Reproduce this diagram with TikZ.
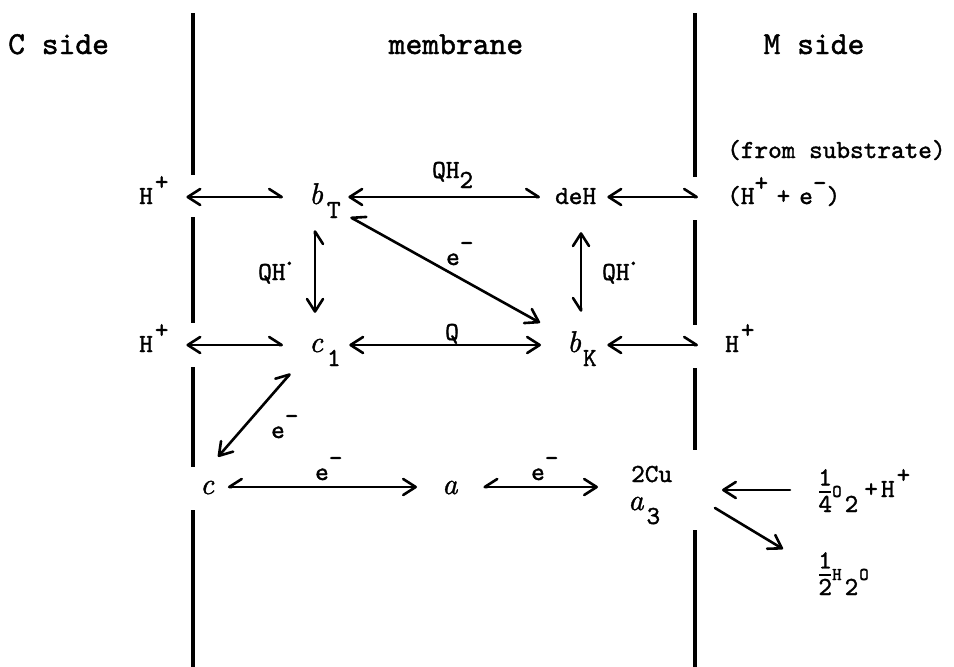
\documentclass[tikz,border=0pt]{standalone}
\usepackage{fontspec}
\setmonofont{lmmono10-regular.otf}[FakeBold=1.4]
\newfontfamily\ivfont{lmroman10-italic.otf}[FakeBold=1.2]
\usetikzlibrary{arrows.meta}
\newcommand{\iv}[1]{{\fontsize{30}{30}\selectfont\ivfont #1}}
\newcommand{\up}[2][14pt]{\raisebox{#1}{#2}}
\newcommand{\dn}[2][-14pt]{\raisebox{#1}{#2}}
\newcommand{\sm}[1]{{\fontsize{18}{18}\selectfont #1}}
\newcommand{\sfr}[2]{\raisebox{-15pt}{\vbox{\hbox to 12pt{\hss#1\hss}\kern6pt\hrule height 1.4pt\kern3pt\hbox to 12pt{\hss#2\hss}}}}
\begin{document}
\begin{tikzpicture}[x=1pt,y=-1pt,
  lbl/.style={inner sep=0pt, text height=14pt, text depth=0pt, anchor=base west,
              font=\fontsize{26}{30}\selectfont\ttfamily},
  head/.style={lbl, font=\fontsize{32}{36}\selectfont\ttfamily},
  mem/.style={line width=4pt},
  arr/.style={line width=2.6pt, line cap=round},
  both/.style={arr, {Straight Barb[length=12.5pt,width=16pt,round]}-{Straight Barb[length=12.5pt,width=16pt,round]}},
  half/.style={arr, {Straight Barb[length=12.5pt,width=16pt,round]}-{Straight Barb[length=12.5pt,width=16pt,round,harpoon]}},
  halfs/.style={arr, {Straight Barb[length=12.5pt,width=16pt,round]}-{Straight Barb[length=12.5pt,width=16pt,round,harpoon,swap]}},
  one/.style={arr, -{Straight Barb[length=12.5pt,width=16pt,round]}}]
\useasboundingbox (0,0) rectangle (954,667);
% membrane boundaries
\draw[mem] (193,13) -- (193,175) (193,217) -- (193,323) (193,367) -- (193,467) (193,510) -- (193,667);
\draw[mem] (695,13) -- (695,177) (695,220) -- (695,325) (695,368) -- (695,450) (695,530) -- (695,667);
\coordinate (mR) at (695,0);
% headers
\node[head] (cside) at (8,54) {C side};
\node[head,anchor=base] (memb) at (456,54) {membrane};
\node[head,anchor=base] (mside) at (814,54) {M side};
\node[lbl] (fromsub) at (727,158) {(from substrate)};
\node[lbl] (he) at (727,204) {(H\up[13pt]{+}\kern8.5pt+\kern9pt e\up[13pt]{-})};
% species
\node[lbl] (Hp1) at (139,204) {H\kern2pt\up{+}};
\node[lbl] (bT) at (309,204) {\iv{b}\kern4pt\dn{T}};
\node[lbl] (deH) at (555,204) {deH};
\node[lbl] (Hp2) at (139,352) {H\kern2pt\up{+}};
\node[lbl] (c1) at (309,352) {\iv{c}\kern4pt\dn{1}};
\node[lbl] (bK) at (567,352) {\iv{b}\kern2pt\dn{K}};
\node[lbl] (Hp3) at (725,352) {H\kern2pt\up{+}};
\node[lbl] (c) at (200,494) {\iv{c}};
\node[lbl] (a) at (442,494) {\iv{a}};
\node[lbl] (cu) at (631,482) {2Cu};
\node[lbl] (a3) at (628,510) {\iv{a}\kern3pt\dn{3}};
\node[lbl] (o2) at (819,497) {\sfr{1}{4}\kern1pt\sm{O}\kern3pt\dn[-15pt]{2}\kern6pt+\kern3pt H\kern2pt\up{+}};
\node[lbl] (h2o) at (819,580) {\sfr{1}{2}\kern1pt\sm{H}\kern3pt\dn[-15pt]{2}\kern1pt\sm{O}};
% arrow labels
\node[lbl] (lQH2) at (432,178) {QH\dn[-10pt]{2}};
\node[lbl] (le1) at (446,265) {e\up{-}};
\node[lbl] (lQHa) at (258,280) {QH\kern-3pt\up[15pt]{.}};
\node[lbl] (lQHb) at (602,280) {QH\kern-3pt\up[15pt]{.}};
\node[lbl] (lQ) at (445,340) {Q};
\node[lbl] (le2) at (271,438) {e\up{-}};
\node[lbl] (le3) at (315,480) {e\up{-}};
\node[lbl] (le4) at (531,480) {e\up{-}};
% horizontal arrows
\draw[half, shorten <=17.7pt, shorten >=26pt] (Hp1) -- (bT);
\draw[half, shorten <=7.5pt, shorten >=15pt] (bT) -- (deH);
\draw[half, shorten <=11pt, shorten >=29pt] (deH) -- (he);
\draw[half, shorten <=17.7pt, shorten >=26pt] (Hp2) -- (c1);
\draw[both, shorten <=8.4pt, shorten >=26pt] (c1) -- (bK);
\draw[half, shorten <=10.5pt, shorten >=27pt] (bK) -- (Hp3);
\draw[halfs, shorten <=25pt, shorten >=13.7pt] (a) -- (c);
\draw[halfs, shorten <=30pt, shorten >=25.7pt] (a -| a3.west) -- (a);
\draw[one, shorten <=29pt, shorten >=27pt] (o2) -- (o2 -| mR);
% vertical arrows
\draw[halfs, shorten <=25pt, shorten >=26pt] ([xshift=6pt]c1.north west) -- ([xshift=6pt]bT.south west);
\draw[halfs, shorten <=28pt, shorten >=26pt] ([xshift=26pt]deH.south west) -- ([xshift=14pt]bK.north west);
% diagonal arrows
\draw[halfs, shorten <=30.9pt, shorten >=10.9pt] (bK.north west) -- ([yshift=-7.7pt]bT.south east);
\draw[half, shorten <=30.5pt, shorten >=28.3pt] ([xshift=-2pt]c.north west) -- (c1.south west);
\coordinate (w1) at (715,508);
\coordinate (w2) at (783,549);
\draw[one] (w1) -- (w2);
\end{tikzpicture}
\end{document}
